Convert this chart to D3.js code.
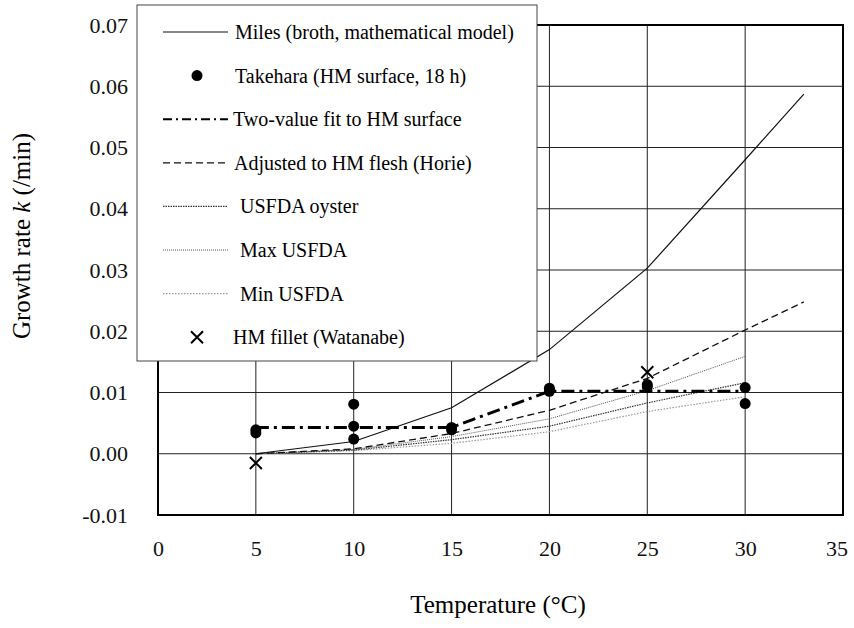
<!DOCTYPE html>
<html>
<head>
<meta charset="utf-8">
<script src="https://cdn.jsdelivr.net/npm/d3@7"></script>
<style>
  body { margin: 0; background: #fff; }
  svg { display: block; font-family: "Liberation Serif", "Times New Roman", serif; }
  .tick text { font-size: 22px; fill: #111; }
</style>
</head>
<body>
<svg id="chart" width="854" height="628"></svg>
<script>
// Data.
const milesT = [5, 10, 15, 20, 25, 30, 33];
const milesK = [0, 0.002, 0.0075, 0.017, 0.0303, 0.048, 0.0587];

const takeharaT = [5, 5, 10, 10, 10, 15, 15, 20, 20, 25, 25, 30, 30];
const takeharaK = [0.0039, 0.0034, 0.0081, 0.0045, 0.0024, 0.0043, 0.0039,
  0.0107, 0.0102, 0.0113, 0.0109, 0.0108, 0.0082];

const fitT = [5, 15, 20, 30];
const fitK = [0.0043, 0.0043, 0.0102, 0.0102];

const horieT = [5, 10, 15, 20, 25, 30, 33];
const horieK = [0, 0.0008, 0.0033, 0.0071, 0.0123, 0.0202, 0.0248];

const usfdaT = [5, 10, 15, 20, 25, 30];
const oysterK = [0, 0.0006, 0.0023, 0.0045, 0.0083, 0.0116];
const maxK = [0, 0.0007, 0.0028, 0.0057, 0.0103, 0.0159];
const minK = [0, 0.0005, 0.0017, 0.0036, 0.0069, 0.0093];

const filletT = [5, 25];
const filletK = [-0.0015, 0.0133];

const xTicks = [0, 5, 10, 15, 20, 25, 30, 35];
const yTicks = [-0.01, 0, 0.01, 0.02, 0.03, 0.04, 0.05, 0.06, 0.07];

const legendLabels = [
  'Miles (broth, mathematical model)',
  'Takehara (HM surface, 18 h)',
  'Two-value fit to HM surface',
  'Adjusted to HM flesh (Horie)',
  'USFDA oyster',
  'Max USFDA',
  'Min USFDA',
  'HM fillet (Watanabe)'
];

// Layout.
const svg = d3.select('#chart');
const x = d3.scaleLinear().domain([0, 35]).range([158, 843]);
const y = d3.scaleLinear().domain([-0.01, 0.07]).range([515, 25]);

const zip = (xs, ys) => xs.map((d, i) => [d, ys[i]]);
const line = d3.line().x(d => x(d[0])).y(d => y(d[1]));

// Grid.
const grid = svg.append('g').attr('stroke', '#222').attr('stroke-width', 1);
grid.selectAll('.vg')
  .data(xTicks.slice(1, -1))
  .join('line')
  .attr('x1', d => x(d)).attr('x2', d => x(d))
  .attr('y1', y(0.07)).attr('y2', y(-0.01));
grid.selectAll('.hg')
  .data(yTicks.slice(1, -1))
  .join('line')
  .attr('x1', x(0)).attr('x2', x(35))
  .attr('y1', d => y(d)).attr('y2', d => y(d));

// Series styles.
const series = [
  { data: zip(usfdaT, minK), stroke: '#9a9a9a', width: 1.2, dash: '1.5,1.5' },
  { data: zip(usfdaT, oysterK), stroke: '#333', width: 1.2, dash: '1.5,1' },
  { data: zip(usfdaT, maxK), stroke: '#555', width: 1, dash: '1,1' },
  { data: zip(horieT, horieK), stroke: '#111', width: 1.3, dash: '7,4' },
  { data: zip(milesT, milesK), stroke: '#111', width: 1.2, dash: null },
  { data: zip(fitT, fitK), stroke: '#000', width: 3, dash: '13,5,3,5' }
];

svg.append('g')
  .selectAll('path')
  .data(series)
  .join('path')
  .attr('d', d => line(d.data))
  .attr('fill', 'none')
  .attr('stroke', d => d.stroke)
  .attr('stroke-width', d => d.width)
  .attr('stroke-dasharray', d => d.dash);

// Markers.
svg.append('g')
  .selectAll('circle')
  .data(zip(takeharaT, takeharaK))
  .join('circle')
  .attr('cx', d => x(d[0]))
  .attr('cy', d => y(d[1]))
  .attr('r', 5.5)
  .attr('fill', '#000');

svg.append('g')
  .selectAll('path')
  .data(zip(filletT, filletK))
  .join('path')
  .attr('d', 'M-6,-6L6,6M-6,6L6,-6')
  .attr('transform', d => `translate(${x(d[0])},${y(d[1])})`)
  .attr('stroke', '#000')
  .attr('stroke-width', 2)
  .attr('fill', 'none');

// Frame.
svg.append('rect')
  .attr('x', x(0)).attr('y', y(0.07))
  .attr('width', x(35) - x(0))
  .attr('height', y(-0.01) - y(0.07))
  .attr('fill', 'none')
  .attr('stroke', '#000')
  .attr('stroke-width', 2);

// Axes.
svg.append('g')
  .attr('transform', `translate(0,${y(-0.01)})`)
  .call(d3.axisBottom(x).tickValues(xTicks).tickSize(0).tickPadding(25))
  .call(g => g.select('.domain').remove())
  .call(g => g.selectAll('.tick text').filter(d => d === 35).attr('dx', '-0.3em'));

svg.append('g')
  .attr('transform', `translate(${x(0)},0)`)
  .call(d3.axisLeft(y).tickValues(yTicks).tickSize(0).tickPadding(30)
    .tickFormat(d => d.toFixed(2)))
  .call(g => g.select('.domain').remove());

// Let the axis text inherit the serif face.
svg.selectAll('g[font-family]').attr('font-family', null).attr('font-size', null);

// Axis titles.
svg.append('text')
  .attr('x', 498).attr('y', 613)
  .attr('text-anchor', 'middle')
  .attr('font-size', 25)
  .text('Temperature (°C)');

const yTitle = svg.append('text')
  .attr('transform', 'translate(30,236) rotate(-90)')
  .attr('text-anchor', 'middle')
  .attr('font-size', 25);
yTitle.append('tspan').text('Growth rate ');
yTitle.append('tspan').attr('font-style', 'italic').text('k');
yTitle.append('tspan').text('  (/min)');

// Legend.
const legend = svg.append('g');
legend.append('rect')
  .attr('x', 137).attr('y', 5)
  .attr('width', 400).attr('height', 356)
  .attr('fill', '#fff')
  .attr('stroke', '#444')
  .attr('stroke-width', 1);

const legendStyles = [
  series[4], null, series[5], series[3], series[1], series[2], series[0], null
];
const textX = [235, 235, 233, 234, 240, 240, 240, 233];

const rows = legend.selectAll('.row')
  .data(legendLabels)
  .join('g')
  .attr('class', 'row')
  .attr('transform', (d, i) => `translate(0,${32 + i * 43.6})`);

rows.each(function(d, i) {
  const row = d3.select(this);
  const s = legendStyles[i];
  if (s) {
    row.append('line')
      .attr('x1', 163).attr('x2', 228)
      .attr('stroke', s.stroke)
      .attr('stroke-width', i === 2 ? 2 : s.width)
      .attr('stroke-dasharray', i === 2 ? '9,4,2,4' : s.dash);
  } else if (i === 1) {
    row.append('circle').attr('cx', 197).attr('r', 5.5).attr('fill', '#000');
  } else {
    row.append('path')
      .attr('d', 'M-6,-6L6,6M-6,6L6,-6')
      .attr('transform', 'translate(197,0)')
      .attr('stroke', '#000')
      .attr('stroke-width', 2);
  }
  row.append('text')
    .attr('x', textX[i])
    .attr('dy', '0.35em')
    .attr('font-size', 20)
    .text(d);
});
</script>
</body>
</html>
